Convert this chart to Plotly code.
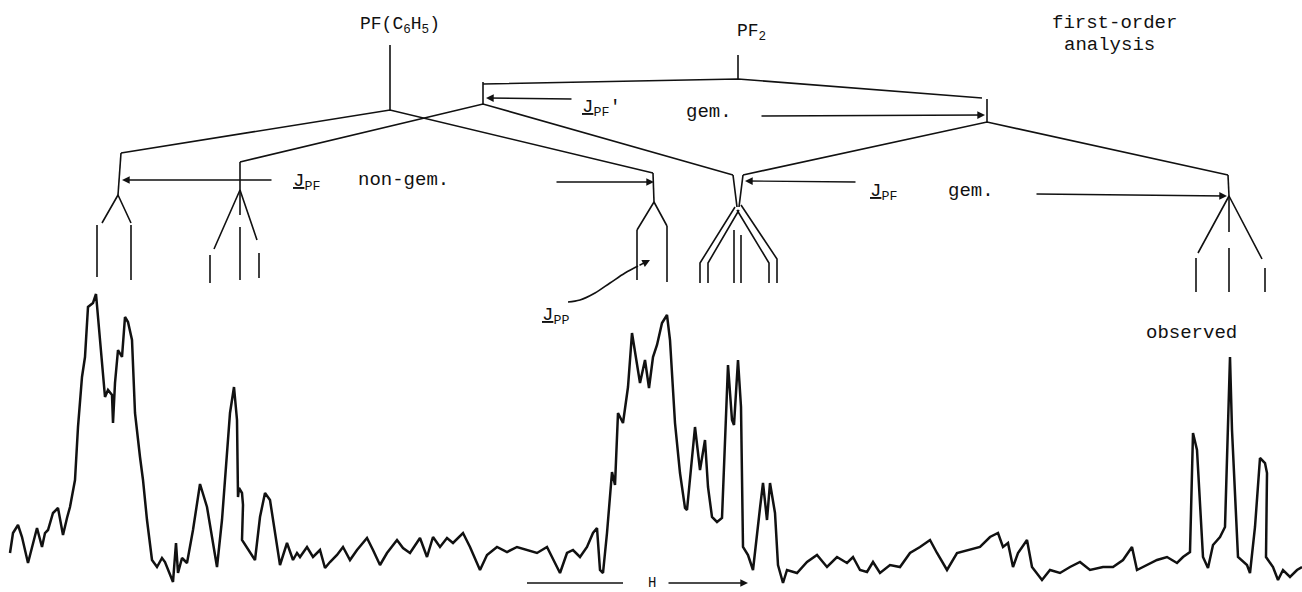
import plotly.graph_objects as go

# ---------------- observed spectrum (trace) ----------------
spec_x = [10, 13, 18, 22, 28, 32, 37, 42, 45, 48, 53, 58, 63, 67, 70, 75, 78, 82, 85, 88,
          93, 96, 98, 102, 105, 108, 112, 113, 115, 118, 122, 125, 128, 132, 135, 140, 143,
          147, 152, 157, 162, 165, 168, 173, 176, 178, 182, 187, 193, 200, 207, 217, 222,
          230, 234, 237, 238, 239, 242, 243, 242, 255, 260, 265, 270, 280, 287, 293, 297,
          300, 307, 313, 320, 325, 330, 337, 343, 350, 357, 367, 373, 380, 387, 397, 403,
          410, 420, 427, 433, 440, 447, 453, 463, 470, 480, 487, 497, 507, 517, 527, 537,
          547, 557, 560, 567, 573, 580, 587, 593, 597, 600, 603, 607, 612, 615, 618, 623,
          628, 632, 635, 640, 645, 649, 653, 657, 662, 667, 670, 675, 680, 685, 687, 695,
          700, 705, 708, 712, 717, 722, 728, 732, 734, 738, 741, 743, 748, 753, 760, 763,
          767, 770, 775, 778, 783, 787, 797, 807, 817, 827, 837, 847, 853, 860, 867, 873,
          880, 890, 900, 910, 920, 930, 937, 947, 957, 970, 980, 990, 998, 1003, 1008, 1013,
          1018, 1027, 1032, 1042, 1050, 1060, 1070, 1080, 1090, 1103, 1113, 1123, 1132,
          1137, 1147, 1157, 1167, 1177, 1183, 1190, 1193, 1197, 1203, 1208, 1213, 1220,
          1225, 1228, 1230, 1232, 1238, 1247, 1250, 1255, 1260, 1265, 1267, 1266, 1273,
          1278, 1283, 1290, 1297, 1302]
spec_y = [553, 533, 525, 537, 563, 547, 528, 547, 533, 530, 513, 508, 535, 518, 507, 480,
          427, 377, 357, 307, 303, 294, 317, 360, 397, 390, 395, 423, 383, 350, 357, 317,
          322, 340, 413, 457, 480, 520, 560, 567, 558, 562, 570, 582, 543, 573, 558, 563,
          530, 484, 507, 567, 520, 413, 387, 420, 497, 488, 493, 505, 540, 560, 517, 493,
          500, 565, 543, 560, 553, 557, 547, 557, 550, 568, 562, 555, 547, 560, 550, 538,
          550, 565, 553, 540, 548, 553, 538, 557, 537, 547, 538, 543, 533, 547, 570, 555,
          547, 552, 547, 550, 553, 547, 567, 573, 553, 550, 557, 547, 533, 528, 570, 573,
          533, 472, 485, 413, 423, 387, 333, 353, 383, 360, 388, 357, 345, 323, 315, 340,
          423, 473, 508, 510, 427, 470, 440, 487, 517, 522, 518, 365, 420, 425, 360, 407,
          547, 555, 570, 508, 483, 520, 483, 513, 565, 583, 570, 573, 562, 555, 567, 557,
          563, 557, 570, 572, 562, 573, 565, 567, 553, 547, 540, 553, 570, 553, 550, 547,
          537, 533, 547, 543, 567, 553, 540, 567, 580, 570, 573, 567, 562, 570, 567, 567,
          560, 547, 570, 565, 560, 557, 563, 557, 552, 433, 450, 557, 568, 545, 537, 527,
          413, 357, 430, 557, 565, 573, 527, 458, 463, 473, 557, 567, 580, 570, 577, 570,
          567]

# ---------------- first-order splitting diagram (polylines, None = break) ----------------
tree_x = [390, 390, None, 121, 390, 653, None, 121, 118, None,
          738, 738, None, 483, 738, 982, None, 483, 483, None, 987, 987, None,
          240, 483, 733, None, 743, 987, 1228, None, 240, 240, None, 653, 654, None,
          733, 737, None, 743, 739, None, 1228, 1229, None,
          102, 118, 131, None, 97, 97, None, 131, 131, None,
          214, 240, 257, None, 240, 240, None, 240, 240, None, 210, 210, None, 259, 259, None,
          637, 654, 667, None, 637, 637, None, 667, 667, None,
          700, 700, 735, None, 708, 708, 739, None, 769, 769, 737, None, 777, 777, 741, None,
          734, 734, None, 741, 741, None,
          1198, 1229, 1262, None, 1229, 1229, None, 1229, 1229, None, 1196, 1196, None,
          1265, 1265, None,
          527, 623]
tree_y = [45, 110, None, 153, 110, 173, None, 153, 195, None,
          55, 79, None, 84, 79, 98, None, 82, 104, None, 99, 122, None,
          162, 104, 175, None, 175, 122, 175, None, 162, 190, None, 173, 202, None,
          175, 207, None, 175, 207, None, 175, 196, None,
          223, 195, 223, None, 225, 277, None, 225, 280, None,
          249, 190, 240, None, 190, 215, None, 227, 280, None, 255, 283, None, 253, 278, None,
          230, 202, 226, None, 230, 280, None, 226, 282, None,
          283, 263, 207, None, 283, 263, 210, None, 283, 263, 210, None, 283, 259, 205, None,
          230, 283, None, 235, 283, None,
          253, 196, 259, None, 196, 232, None, 248, 292, None, 258, 292, None,
          268, 292, None,
          583, 583]

# J_PP curved pointer
jpp_x = [568, 580, 595, 610, 625, 638]
jpp_y = [302, 300, 293, 283, 273, 266]

# arrows: tail -> head
arrow_tail_x = [573, 760, 273, 555, 857, 1035, 667, 638]
arrow_tail_y = [99, 116, 180, 182, 182, 194, 583, 266]
arrow_head_x = [486, 985, 122, 654, 745, 1227, 748, 650]
arrow_head_y = [98, 115, 180, 182, 181, 196, 583, 260]

# text labels
label_text = ["PF(C<sub>6</sub>H<sub>5</sub>)", "PF<sub>2</sub>", "first-order", "analysis",
              "<span style='text-decoration:underline'>J</span><sub>PF</sub>′", "gem.",
              "<span style='text-decoration:underline'>J</span><sub>PF</sub>", "non-gem.",
              "<span style='text-decoration:underline'>J</span><sub>PF</sub>", "gem.",
              "<span style='text-decoration:underline'>J</span><sub>PP</sub>", "observed", "H"]
label_x = [358, 735, 1050, 1062, 580, 684, 291, 356, 868, 946, 540, 1144, 652]
label_y = [25, 32, 23, 45, 108, 112, 182, 180, 192, 191, 316, 333, 583]
label_anchor = ["left", "left", "left", "left", "left", "left", "left", "left", "left",
                "left", "left", "left", "center"]
label_size = [18, 18, 19, 19, 19, 19, 19, 19, 19, 19, 19, 19, 14]

FONT = "Liberation Mono, DejaVu Sans Mono, monospace"
INK = "#111111"

fig = go.Figure()
fig.add_trace(go.Scatter(x=tree_x, y=tree_y, mode="lines",
                         line=dict(color=INK, width=1.6), hoverinfo="skip"))
fig.add_trace(go.Scatter(x=jpp_x, y=jpp_y, mode="lines", line_shape="spline",
                         line=dict(color=INK, width=1.6), hoverinfo="skip"))
fig.add_trace(go.Scatter(x=spec_x, y=spec_y, mode="lines",
                         line=dict(color=INK, width=2.5), hoverinfo="skip"))

for tx, ty, hx, hy in zip(arrow_tail_x, arrow_tail_y, arrow_head_x, arrow_head_y):
    fig.add_annotation(x=hx, y=hy, ax=tx, ay=ty, xref="x", yref="y", axref="x", ayref="y",
                       text="", showarrow=True, arrowhead=2, arrowsize=1.1,
                       arrowwidth=1.4, arrowcolor=INK, standoff=0)

for t, x, y, a, s in zip(label_text, label_x, label_y, label_anchor, label_size):
    fig.add_annotation(x=x, y=y, xref="x", yref="y", text=t, showarrow=False,
                       xanchor=a, yanchor="middle",
                       font=dict(family=FONT, size=s, color=INK))

fig.update_layout(
    width=1302, height=592, margin=dict(l=0, r=0, t=0, b=0),
    paper_bgcolor="white", plot_bgcolor="white", showlegend=False,
    xaxis=dict(range=[0, 1302], visible=False, fixedrange=True),
    yaxis=dict(range=[592, 0], visible=False, fixedrange=True),
)
fig.write_html("out.html")
